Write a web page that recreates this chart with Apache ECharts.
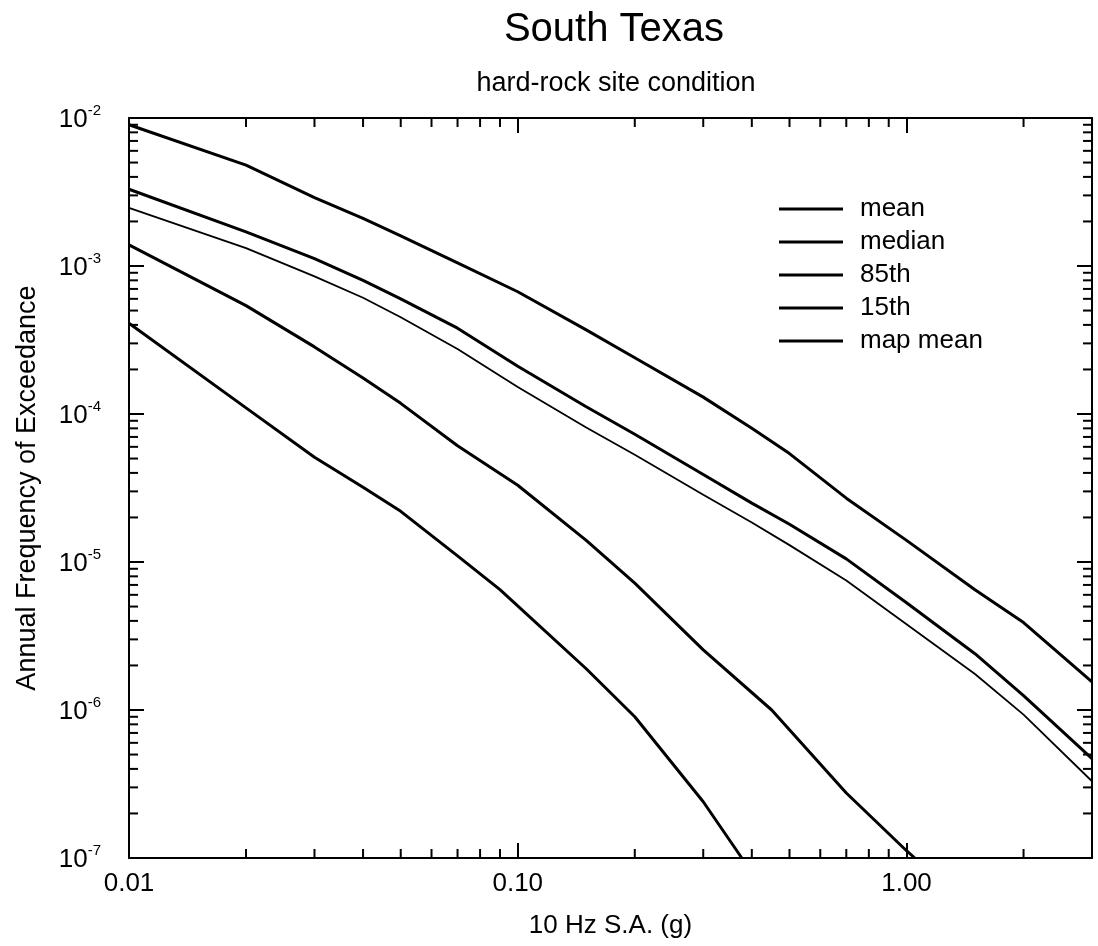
<!DOCTYPE html>
<html><head><meta charset="utf-8">
<script src="https://cdn.jsdelivr.net/npm/echarts@6/dist/echarts.min.js"></script>
<style>html,body{margin:0;padding:0;background:#fff}#c{width:1098px;height:946px}</style>
</head><body><div id="c"></div>
<script>
// ---------- data ----------
const xFull = [0.01,0.02,0.03,0.04,0.05,0.07,0.1,0.15,0.2,0.3,0.4,0.5,0.7,1.0,1.5,2,3];
const y85th = [9.0e-3,4.8e-3,2.9e-3,2.1e-3,1.6e-3,1.05e-3,6.7e-4,3.7e-4,2.4e-4,1.3e-4,8.0e-5,5.4e-5,2.7e-5,1.4e-5,6.5e-6,3.9e-6,1.55e-6];
const yMean = [3.3e-3,1.7e-3,1.12e-3,8.0e-4,6.0e-4,3.8e-4,2.1e-4,1.12e-4,7.3e-5,3.9e-5,2.5e-5,1.8e-5,1.05e-5,5.3e-6,2.4e-6,1.25e-6,4.7e-7];
const yMapMean = [2.47e-3,1.32e-3,8.5e-4,6.1e-4,4.5e-4,2.75e-4,1.52e-4,8.1e-5,5.3e-5,2.85e-5,1.85e-5,1.3e-5,7.5e-6,3.8e-6,1.75e-6,9.3e-7,3.3e-7];
const xMedian = [0.01,0.02,0.03,0.04,0.05,0.07,0.1,0.15,0.2,0.3,0.45,0.7,1.0,1.05];
const yMedian = [1.39e-3,5.4e-4,2.84e-4,1.75e-4,1.18e-4,6.1e-5,3.3e-5,1.4e-5,7.2e-6,2.55e-6,1.0e-6,2.75e-7,1.12e-7,1.0e-7];
const x15th = [0.01,0.02,0.03,0.04,0.05,0.07,0.09,0.15,0.2,0.3,0.377];
const y15th = [4.1e-4,1.1e-4,5.1e-5,3.2e-5,2.2e-5,1.1e-5,6.5e-6,1.9e-6,9.0e-7,2.4e-7,1.0e-7];
const legendNames = ['mean','median','85th','15th','map mean'];
const xMinorTicks = [0.02,0.03,0.04,0.05,0.06,0.07,0.08,0.09,0.2,0.3,0.4,0.5,0.6,0.7,0.8,0.9,2];
const yMinorTicks = [];
[1e-7,1e-6,1e-5,1e-4,1e-3].forEach(function(d){[2,3,4,5,6,7,8,9].forEach(function(m){yMinorTicks.push(+(d*m).toPrecision(3));});});
const X_MIN = 0.01, X_MAX = 3, Y_MIN = 1e-7, Y_MAX = 1e-2;

// ---------- chart ----------
const FONT = "'Liberation Sans', Arial, Helvetica, sans-serif";
const chart = echarts.init(document.getElementById('c'), null, {renderer:'canvas'});
function pairs(xa, ya){ return xa.map(function(x,i){return [x, ya[i]];}); }
function lineSeries(name, xa, ya, w){
  return {name:name, type:'line', data:pairs(xa,ya), symbol:'none', showSymbol:false,
    lineStyle:{color:'#000', width:w}, itemStyle:{color:'#000'}, xAxisIndex:0, yAxisIndex:0, z:3, animation:false};
}
function isPow10(v){ const e = Math.log10(v); return Math.abs(e - Math.round(e)) < 1e-6; }

const axisLineStyle = {lineStyle:{color:'#000', width:2}};
const majorTick = {show:true, inside:true, length:15, lineStyle:{color:'#000', width:2}};

const option = {
  backgroundColor:'#fff',
  animation:false,
  grid:{left:129, right:6, top:118, bottom:88, containLabel:false},
  graphic:[
    {type:'text', x:614, y:30, style:{text:'South Texas', font:"40px "+FONT, fill:'#000', textAlign:'center', textVerticalAlign:'middle'}},
    {type:'text', x:616, y:84, style:{text:'hard-rock site condition', font:"27px "+FONT, fill:'#000', textAlign:'center', textVerticalAlign:'middle'}}
  ],
  legend:{
    data:legendNames, orient:'vertical', left:779, top:196, padding:0, itemWidth:64, itemHeight:3, itemGap:7,
    icon:'rect', selectedMode:false,
    textStyle:{fontSize:26, lineHeight:26, color:'#000', fontFamily:FONT, padding:[0,0,0,12]}
  },
  xAxis:[
    {type:'log', logBase:10, min:X_MIN, max:X_MAX, position:'bottom',
     name:'10 Hz S.A. (g)', nameLocation:'middle', nameGap:55,
     nameTextStyle:{fontSize:26, color:'#000', fontFamily:FONT},
     axisLine:axisLineStyle, axisTick:majorTick, splitLine:{show:false}, minorTick:{show:false},
     axisLabel:{color:'#000', fontSize:26, fontFamily:FONT, margin:13,
       formatter:function(v){ return isPow10(v) ? v.toFixed(2) : ''; }}},
    {type:'log', logBase:10, min:X_MIN, max:X_MAX, position:'top',
     axisLine:axisLineStyle, axisTick:majorTick, axisLabel:{show:false}, splitLine:{show:false}}
  ],
  yAxis:[
    {type:'log', logBase:10, min:Y_MIN, max:Y_MAX, position:'left',
     name:'Annual Frequency of Exceedance', nameLocation:'middle', nameGap:88, nameRotate:90,
     nameTextStyle:{fontSize:27, color:'#000', fontFamily:FONT},
     axisLine:axisLineStyle, axisTick:majorTick, splitLine:{show:false},
     axisLabel:{margin:28, formatter:function(v){ const e = Math.round(Math.log10(v)); return '{b|10}{s|' + e + '}'; },
       rich:{b:{fontSize:26, lineHeight:30, color:'#000', fontFamily:FONT, verticalAlign:'bottom'},
             s:{fontSize:15, lineHeight:15, color:'#000', fontFamily:FONT, verticalAlign:'top'}}}},
    {type:'log', logBase:10, min:Y_MIN, max:Y_MAX, position:'right',
     axisLine:axisLineStyle, axisTick:majorTick, axisLabel:{show:false}, splitLine:{show:false}}
  ],
  series:[
    lineSeries('85th', xFull, y85th, 3),
    lineSeries('mean', xFull, yMean, 3),
    lineSeries('map mean', xFull, yMapMean, 1.8),
    lineSeries('median', xMedian, yMedian, 3),
    lineSeries('15th', x15th, y15th, 3),
    {type:'custom', silent:true, z:4, xAxisIndex:0, yAxisIndex:0,
     data:xMinorTicks.map(function(v){return [v, Y_MIN];}),
     renderItem:function(params, api){
       const b = api.coord([api.value(0), Y_MIN]);
       const t = api.coord([api.value(0), Y_MAX]);
       return {type:'group', children:[
         {type:'line', shape:{x1:b[0], y1:b[1], x2:b[0], y2:b[1]-9}, style:{stroke:'#000', lineWidth:2}},
         {type:'line', shape:{x1:t[0], y1:t[1], x2:t[0], y2:t[1]+9}, style:{stroke:'#000', lineWidth:2}}
       ]};
     }},
    {type:'custom', silent:true, z:4, xAxisIndex:0, yAxisIndex:0,
     data:yMinorTicks.map(function(v){return [X_MIN, v];}),
     renderItem:function(params, api){
       const l = api.coord([X_MIN, api.value(1)]);
       const r = api.coord([X_MAX, api.value(1)]);
       return {type:'group', children:[
         {type:'line', shape:{x1:l[0], y1:l[1], x2:l[0]+9, y2:l[1]}, style:{stroke:'#000', lineWidth:2}},
         {type:'line', shape:{x1:r[0], y1:r[1], x2:r[0]-9, y2:r[1]}, style:{stroke:'#000', lineWidth:2}}
       ]};
     }}
  ]
};
chart.setOption(option);
</script>
</body></html>
